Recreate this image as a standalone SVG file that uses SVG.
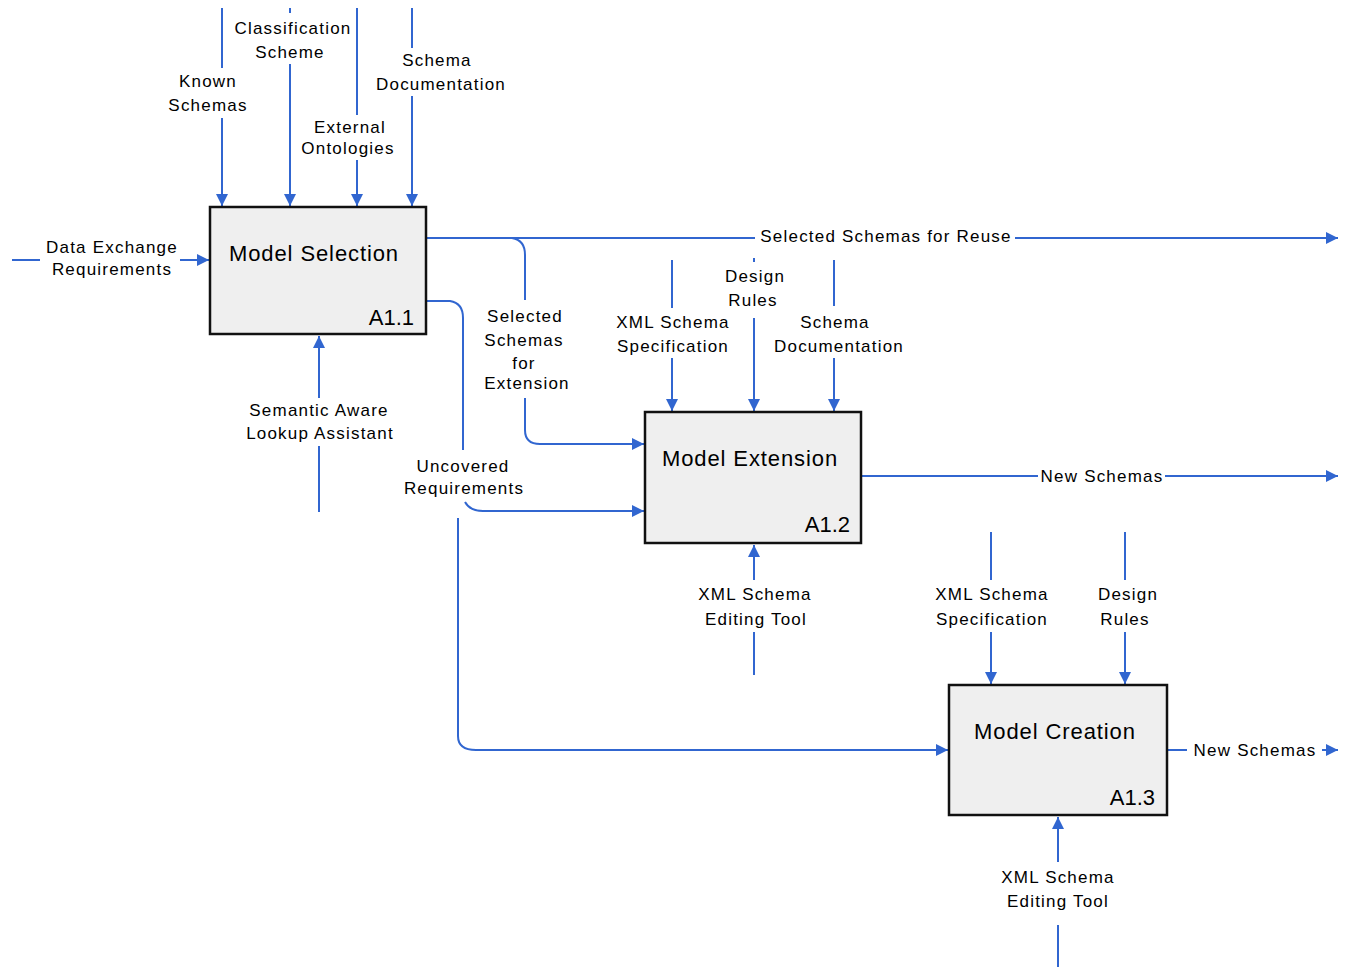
<svg xmlns="http://www.w3.org/2000/svg" width="1349" height="967" viewBox="0 0 1349 967">
<style>
.box{fill:#efefef;stroke:#111;stroke-width:2.5}
.ttl{font-family:"Liberation Sans",Arial,sans-serif;font-size:22px;letter-spacing:0.9px;text-anchor:middle;fill:#000}
.num{font-family:"Liberation Sans",Arial,sans-serif;font-size:22px;text-anchor:end;fill:#000}
.lbl{font-family:"Liberation Sans",Arial,sans-serif;font-size:17px;letter-spacing:1.2px;text-anchor:middle;fill:#000}
.ln{fill:none;stroke:#3166d0;stroke-width:2}
.ar{marker-end:url(#ah)}
</style>
<defs>
<marker id="ah" markerUnits="userSpaceOnUse" markerWidth="12" markerHeight="12" refX="10" refY="5" orient="auto" viewBox="0 0 10 10">
<path d="M0,0 L10,5 L0,10 z" fill="#3166d0"/>
</marker>
</defs>
<rect width="1349" height="967" fill="#fff"/>

<g id="connectors">
<!-- A1.1 controls -->
<path class="ln" d="M222 8 V68"/><path class="ln ar" d="M222 118 V206"/>
<path class="ln" d="M290 8 V13"/><path class="ln ar" d="M290 64 V206"/>
<path class="ln" d="M357 8 V115"/><path class="ln ar" d="M357 160 V206"/>
<path class="ln" d="M412 8 V48"/><path class="ln ar" d="M412 96 V206"/>
<!-- A1.1 input -->
<path class="ln" d="M12 260 H40"/><path class="ln ar" d="M180 260 H209"/>
<!-- A1.1 mechanism -->
<path class="ln" d="M319 512 V446"/><path class="ln ar" d="M319 398 V336"/>
<!-- Selected Schemas for Reuse -->
<path class="ln" d="M426 238 H755"/><path class="ln ar" d="M1015 238 H1338"/>
<!-- Selected Schemas for Extension -->
<path class="ln" d="M512 238 Q525 240 525 255 V300"/>
<path class="ln ar" d="M525 398 V430 Q525 444 540 444 H644"/>
<!-- Uncovered Requirements -->
<path class="ln" d="M426 301 H450 Q463 303 463 318 V450"/>
<path class="ln ar" d="M465 502 Q470 511 483 511 H644"/>
<path class="ln ar" d="M458 518 V736 Q458 750 476 750 H948"/>
<!-- A1.2 controls -->
<path class="ln" d="M672 260 V308"/><path class="ln ar" d="M672 358 V411"/>
<path class="ln" d="M754 258 V262"/><path class="ln ar" d="M754 318 V411"/>
<path class="ln" d="M834 260 V306"/><path class="ln ar" d="M834 358 V411"/>
<!-- A1.2 output -->
<path class="ln" d="M861 476 H1038"/><path class="ln ar" d="M1165 476 H1338"/>
<!-- A1.2 mechanism -->
<path class="ln" d="M754 675 V632"/><path class="ln ar" d="M754 580 V545"/>
<!-- A1.3 controls -->
<path class="ln" d="M991 532 V580"/><path class="ln ar" d="M991 632 V684"/>
<path class="ln" d="M1125 532 V580"/><path class="ln ar" d="M1125 632 V684"/>
<!-- A1.3 output -->
<path class="ln" d="M1167 750 H1187"/><path class="ln ar" d="M1322 750 H1338"/>
<!-- A1.3 mechanism -->
<path class="ln" d="M1058 967 V925"/><path class="ln ar" d="M1058 862 V817"/>
</g>

<g id="labels">
<text class="lbl" x="208" y="87">Known</text><text class="lbl" x="208" y="111">Schemas</text>
<text class="lbl" x="293" y="34">Classification</text><text class="lbl" x="290" y="58">Scheme</text>
<text class="lbl" x="350" y="133">External</text><text class="lbl" x="348" y="154">Ontologies</text>
<text class="lbl" x="437" y="66">Schema</text><text class="lbl" x="441" y="90">Documentation</text>
<text class="lbl" x="112" y="253">Data Exchange</text><text class="lbl" x="112" y="275">Requirements</text>
<text class="lbl" x="319" y="416">Semantic Aware</text><text class="lbl" x="320" y="439">Lookup Assistant</text>
<text class="lbl" x="886" y="242">Selected Schemas for Reuse</text>
<text class="lbl" x="525" y="322">Selected</text><text class="lbl" x="524" y="346">Schemas</text><text class="lbl" x="524" y="369">for</text><text class="lbl" x="527" y="389">Extension</text>
<text class="lbl" x="463" y="472">Uncovered</text><text class="lbl" x="464" y="494">Requirements</text>
<text class="lbl" x="673" y="328">XML Schema</text><text class="lbl" x="673" y="352">Specification</text>
<text class="lbl" x="755" y="282">Design</text><text class="lbl" x="753" y="306">Rules</text>
<text class="lbl" x="835" y="328">Schema</text><text class="lbl" x="839" y="352">Documentation</text>
<text class="lbl" x="1102" y="482">New Schemas</text>
<text class="lbl" x="755" y="600">XML Schema</text><text class="lbl" x="756" y="625">Editing Tool</text>
<text class="lbl" x="992" y="600">XML Schema</text><text class="lbl" x="992" y="625">Specification</text>
<text class="lbl" x="1128" y="600">Design</text><text class="lbl" x="1125" y="625">Rules</text>
<text class="lbl" x="1255" y="756">New Schemas</text>
<text class="lbl" x="1058" y="883">XML Schema</text><text class="lbl" x="1058" y="907">Editing Tool</text>
</g>

<g id="A1.1">
<rect class="box" x="210" y="207" width="216" height="127"/>
<text class="ttl" x="314" y="261">Model Selection</text>
<text class="num" x="414" y="325">A1.1</text>
</g>
<g id="A1.2">
<rect class="box" x="645" y="412" width="216" height="131"/>
<text class="ttl" x="750" y="466">Model Extension</text>
<text class="num" x="850" y="532">A1.2</text>
</g>
<g id="A1.3">
<rect class="box" x="949" y="685" width="218" height="130"/>
<text class="ttl" x="1055" y="739">Model Creation</text>
<text class="num" x="1155" y="805">A1.3</text>
</g>
</svg>
